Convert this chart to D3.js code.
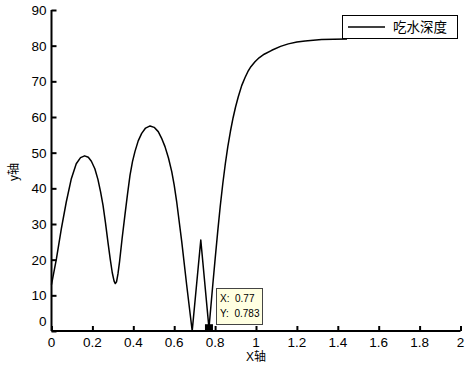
<!DOCTYPE html>
<html>
<head>
<meta charset="utf-8">
<script src="https://cdn.jsdelivr.net/npm/d3@7"></script>
<style>
  body { margin: 0; background: #fff; }
  text { font-family: "Liberation Sans", Arial, "Noto Sans CJK SC", sans-serif; }
</style>
</head>
<body>
<script>
// curve samples
const xVals = [0, 0.024, 0.048, 0.072, 0.097, 0.121, 0.142, 0.162, 0.18, 0.195, 0.212, 0.227, 0.24, 0.252, 0.264, 0.276, 0.287, 0.297, 0.306, 0.312, 0.318, 0.325, 0.333, 0.345, 0.359, 0.372, 0.384, 0.396, 0.408, 0.424, 0.441, 0.46, 0.482, 0.502, 0.522, 0.538, 0.555, 0.572, 0.588, 0.6, 0.612, 0.637, 0.661, 0.688, 0.73, 0.77, 0.78, 0.79, 0.8, 0.813, 0.825, 0.838, 0.85, 0.862, 0.875, 0.888, 0.9, 0.913, 0.93, 0.946, 0.96, 0.975, 0.995, 1.015, 1.04, 1.077, 1.12, 1.158, 1.2, 1.24, 1.28, 1.321, 1.38, 1.445];
const yVals = [13, 20.2, 28.6, 36.1, 42.7, 46.9, 48.6, 49.1, 48.7, 47.6, 45.5, 42.5, 39, 35.2, 30.3, 24.9, 20.2, 16.4, 14, 13.3, 13.8, 16, 19.5, 25.8, 32.5, 38.5, 43.7, 47.5, 50.3, 53.3, 55.4, 56.9, 57.5, 57.1, 55.9, 54.1, 51.7, 48.5, 44.7, 40.9, 36.3, 25, 12.9, 0, 25.5, 0.783, 7.3, 13.8, 20.1, 28, 34.9, 41.5, 46.9, 51.6, 56, 59.8, 62.8, 65.6, 68.8, 71.0, 72.7, 74.1, 75.5, 76.6, 77.6, 78.7, 79.8, 80.5, 81, 81.3, 81.5, 81.7, 81.8, 81.9];
const xTicks = [0, 0.2, 0.4, 0.6, 0.8, 1, 1.2, 1.4, 1.6, 1.8, 2];
const yTicks = [0, 10, 20, 30, 40, 50, 60, 70, 80, 90];
const seriesName = "吃水深度";
const tipPoint = [0.77, 0.783];

const W = 470, H = 368;
const svg = d3.select("body").append("svg")
  .attr("width", W)
  .attr("height", H);

const x = d3.scaleLinear().domain([0, 2]).range([51.5, 460.5]);
const y = d3.scaleLinear().domain([0, 90]).range([331, 10]);

const pts = xVals.map((v, i) => [v, yVals[i]]);

// curve
const line = d3.line()
  .x(d => x(d[0]))
  .y(d => y(d[1]));

svg.append("path")
  .datum(pts)
  .attr("d", line)
  .attr("fill", "none")
  .attr("stroke", "#000")
  .attr("stroke-width", 1.5)
  .attr("stroke-linejoin", "round");

// axes, ticks pointing inward
const xAxis = svg.append("g")
  .attr("transform", `translate(0,${y(0)})`)
  .call(d3.axisTop(x).tickValues(xTicks).tickSize(5).tickFormat(""));
xAxis.select(".domain").attr("d", `M${x(0)},0H${x(2)}`).attr("stroke-width", 2);
xAxis.selectAll(".tick line").attr("stroke-width", 2);

const yAxis = svg.append("g")
  .attr("transform", `translate(${x(0)},0)`)
  .call(d3.axisRight(y).tickValues(yTicks).tickSize(5).tickFormat(""));
yAxis.select(".domain").attr("d", `M0,${y(0)}V${y(90)}`).attr("stroke-width", 2);
yAxis.selectAll(".tick line").attr("stroke-width", 2);

// tick labels
svg.selectAll(".xlab")
  .data(xTicks)
  .enter()
  .append("text")
  .attr("x", d => x(d))
  .attr("y", y(0) + 16)
  .attr("text-anchor", "middle")
  .attr("font-size", 13.5)
  .text(d => d);

svg.selectAll(".ylab")
  .data(yTicks)
  .enter()
  .append("text")
  .attr("x", x(0) - 5)
  .attr("y", d => d === 0 ? y(d) - 5 : y(d) + 5)
  .attr("text-anchor", "end")
  .attr("font-size", 13.5)
  .text(d => d);

svg.append("text")
  .attr("x", 256)
  .attr("y", 361)
  .attr("text-anchor", "middle")
  .attr("font-size", 12)
  .text("X轴");

svg.append("text")
  .attr("transform", "translate(18,172) rotate(-90)")
  .attr("text-anchor", "middle")
  .attr("font-size", 12)
  .text("y轴");

// data tip
svg.append("rect")
  .attr("x", x(tipPoint[0]) - 4)
  .attr("y", y(tipPoint[1]) - 4)
  .attr("width", 8)
  .attr("height", 7)
  .attr("fill", "#000");

const tip = svg.append("g").attr("transform", "translate(216,288)");
tip.append("rect")
  .attr("x", 0.5).attr("y", 0.5)
  .attr("width", 46).attr("height", 36)
  .attr("fill", "#ffffe1")
  .attr("stroke", "#444");
tip.append("text").attr("x", 4).attr("y", 14).attr("font-size", 10)
  .style("white-space", "pre")
  .text("X:  " + tipPoint[0]);
tip.append("text").attr("x", 4).attr("y", 29).attr("font-size", 10)
  .style("white-space", "pre")
  .text("Y:  " + tipPoint[1]);

// legend
const lg = svg.append("g").attr("transform", "translate(342,15)");
lg.append("rect")
  .attr("x", 0.5).attr("y", 0.5)
  .attr("width", 115).attr("height", 23)
  .attr("fill", "#fff")
  .attr("stroke", "#000");
lg.append("line")
  .attr("x1", 6).attr("x2", 43)
  .attr("y1", 12).attr("y2", 12)
  .attr("stroke", "#000")
  .attr("stroke-width", 1.5);
lg.append("text")
  .attr("x", 51).attr("y", 17)
  .attr("font-size", 13.5)
  .text(seriesName);
</script>
</body>
</html>
